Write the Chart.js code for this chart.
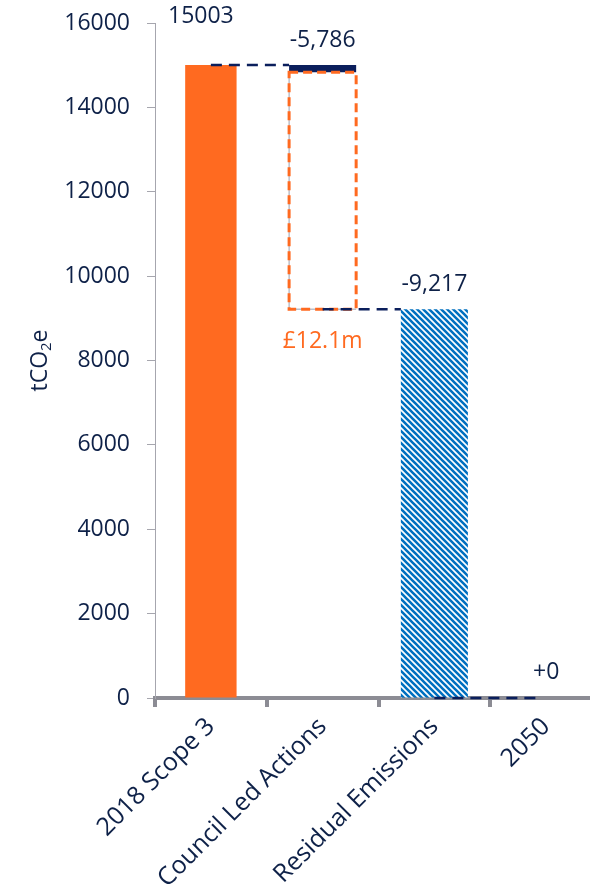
<!DOCTYPE html>
<html>
<head>
<meta charset="utf-8">
<script src="https://cdn.jsdelivr.net/npm/chart.js@4"></script>
<style>
  html, body { margin: 0; padding: 0; background: #fff; overflow: hidden; }
  canvas { display: block; }
</style>
</head>
<body>
<canvas id="wfChart" width="620" height="895"></canvas>
<script>
// data
const categories = ["2018 Scope 3", "Council Led Actions", "Residual Emissions", "2050"];
const baseline = [15003, null, null, null];
const measured = [null, [14833, 15003], null, null];
const costed = [null, [9217, 14833], null, null];
const residual = [null, null, 9217, null];
const barTops = [15003, 15003, 9217, 0];
const valueLabels = ["15003", "-5,786", "-9,217", "+0"];
const costLabel = "£12.1m";
const yTicks = [0, 2000, 4000, 6000, 8000, 10000, 12000, 14000, 16000];

const navy = "#0b1f5c";
const orange = "#ff6a20";
const textColor = "#0e2148";
const FONT = "'Open Sans', sans-serif";

function hatchPattern() {
  const c = document.createElement("canvas");
  c.width = 6;
  c.height = 6;
  const g = c.getContext("2d");
  g.fillStyle = "#fff";
  g.fillRect(0, 0, 6, 6);
  g.strokeStyle = "#0070c0";
  g.lineWidth = 2.6;
  g.beginPath();
  g.moveTo(-1, -1); g.lineTo(7, 7);
  g.moveTo(-1, 5); g.lineTo(1, 7);
  g.moveTo(5, -1); g.lineTo(7, 1);
  g.stroke();
  return g.createPattern(c, "repeat");
}

// connectors, dashed outline and labels
const waterfallPlugin = {
  id: "waterfall",
  afterDatasetsDraw(chart) {
    const ctx = chart.ctx;
    const xs = chart.scales.x;
    const ys = chart.scales.y;

    // dashed outline for the costed part
    const box = chart.getDatasetMeta(2).data[1];
    const bl = box.x - box.width / 2;
    const bt = Math.min(box.y, box.base);
    const bb = Math.max(box.y, box.base);
    ctx.save();
    ctx.strokeStyle = "#9aa0b0";
    ctx.lineWidth = 1;
    ctx.beginPath();
    ctx.moveTo(bl, bt);
    ctx.lineTo(bl, bb);
    ctx.lineTo(bl + box.width, bb);
    ctx.stroke();
    ctx.strokeStyle = orange;
    ctx.lineWidth = 3;
    ctx.setLineDash([9, 5]);
    ctx.strokeRect(bl, bt, box.width, bb - bt);
    ctx.restore();

    // connector lines
    const w = chart.getDatasetMeta(1).data[1].width;
    const links = [
      { from: 0, v: barTops[0], end: xs.getPixelForValue(1) - w / 2 },
      { from: 1, v: barTops[2], end: xs.getPixelForValue(2) - w / 2 },
      { from: 2, v: barTops[3], end: xs.getPixelForValue(3) - 6 }
    ];
    ctx.save();
    ctx.strokeStyle = navy;
    ctx.lineWidth = 2.5;
    ctx.setLineDash([11, 7]);
    links.forEach((l) => {
      const yy = ys.getPixelForValue(l.v);
      ctx.beginPath();
      ctx.moveTo(xs.getPixelForValue(l.from), yy);
      ctx.lineTo(l.end, yy);
      ctx.stroke();
    });
    ctx.restore();

    // value labels
    const offsets = [49, 25, 25, 26];
    const shifts = [-10, 0, 0, 0];
    ctx.save();
    ctx.font = "23px " + FONT;
    ctx.fillStyle = textColor;
    ctx.textAlign = "center";
    ctx.textBaseline = "middle";
    valueLabels.forEach((t, i) => {
      ctx.fillText(t, xs.getPixelForValue(i) + shifts[i], ys.getPixelForValue(barTops[i]) - offsets[i]);
    });
    ctx.fillStyle = orange;
    ctx.fillText(costLabel, xs.getPixelForValue(1), bb + 32);
    ctx.restore();

    // axis title with subscript
    const cy = (chart.chartArea.top + chart.chartArea.bottom) / 2;
    ctx.save();
    ctx.translate(40, cy);
    ctx.rotate(-Math.PI / 2);
    ctx.fillStyle = textColor;
    ctx.textBaseline = "middle";
    const a = "tCO", b = "2", c = "e";
    ctx.font = "23px " + FONT;
    const wa = ctx.measureText(a).width;
    const wc = ctx.measureText(c).width;
    ctx.font = "15px " + FONT;
    const wb = ctx.measureText(b).width;
    const x0 = -(wa + wb + wc) / 2;
    ctx.font = "23px " + FONT;
    ctx.fillText(a, x0, 0);
    ctx.font = "15px " + FONT;
    ctx.fillText(b, x0 + wa, 7);
    ctx.font = "23px " + FONT;
    ctx.fillText(c, x0 + wa + wb, 0);
    ctx.restore();
  }
};

const ctx = document.getElementById("wfChart").getContext("2d");
new Chart(ctx, {
  type: "bar",
  data: {
    labels: categories,
    datasets: [
      { data: baseline, backgroundColor: orange, barPercentage: 0.46 },
      { data: measured, backgroundColor: navy, barPercentage: 0.6 },
      { data: costed, backgroundColor: "rgba(0,0,0,0)", barPercentage: 0.6 },
      { data: residual, backgroundColor: hatchPattern(), barPercentage: 0.6 }
    ]
  },
  options: {
    responsive: false,
    animation: false,
    layout: { padding: { top: 23, right: 18, left: 0, bottom: 0 } },
    datasets: { bar: { grouped: false, categoryPercentage: 1 } },
    plugins: { legend: { display: false }, tooltip: { enabled: false } },
    scales: {
      x: {
        border: { display: true, color: "#8c8c94", width: 4 },
        grid: { drawOnChartArea: false, drawTicks: true, tickLength: 9, lineWidth: 4, color: "#8c8c94" },
        ticks: {
          color: textColor,
          font: { family: FONT, size: 25 },
          minRotation: 45,
          maxRotation: 45,
          padding: 5
        },
        afterFit: (s) => { s.height = 197; }
      },
      y: {
        min: 0,
        max: 16000,
        afterBuildTicks: (s) => { s.ticks = yTicks.map((v) => ({ value: v })); },
        border: { display: true, color: "#a6a6ae", width: 1 },
        grid: { drawOnChartArea: false, drawTicks: true, tickLength: 8, color: "#a6a6ae" },
        ticks: {
          color: textColor,
          font: { family: FONT, size: 23 },
          padding: 17,
          callback: (v) => String(v)
        },
        afterFit: (s) => { s.width = 155; s.paddingTop = 0; s.paddingBottom = 0; }
      }
    }
  },
  plugins: [waterfallPlugin]
});
</script>
</body>
</html>
